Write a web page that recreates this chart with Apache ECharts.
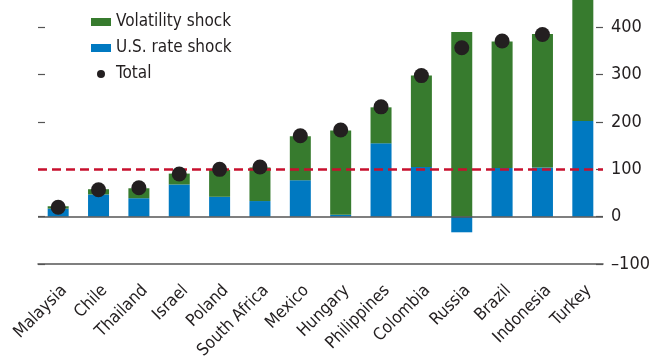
<!DOCTYPE html>
<html>
<head>
<meta charset="utf-8">
<script src="https://cdn.jsdelivr.net/npm/echarts@6/dist/echarts.min.js"></script>
<style>
html,body{margin:0;padding:0;background:#fff;overflow:hidden;}
#chart{width:666px;height:380px;position:absolute;left:0;top:-20px;}
</style>
</head>
<body>
<div id="chart"></div>
<script>
const categories = ['Malaysia','Chile','Thailand','Israel','Poland','South Africa','Mexico','Hungary','Philippines','Colombia','Russia','Brazil','Indonesia','Turkey'];
const usRateShock = [17, 47, 39, 68, 42, 33, 77, 4, 155, 105, -33, 103, 104, 202];
const volatilityShock = [5, 11, 21, 23, 57, 71, 93, 178, 76, 193, 390, 267, 282, 300];
const total = [20, 57, 61, 90, 100, 105, 171, 183, 232, 298, 357, 371, 385, 505];
const yTicks = {min: -100, max: 500, interval: 100};

const FONT = '"Liberation Sans Narrow", "DejaVu Sans Condensed", sans-serif';
const TXT = '#231F20';

const chart = echarts.init(document.getElementById('chart'));
chart.setOption({
  animation: false,
  textStyle: {fontFamily: FONT, color: TXT},
  grid: {left: 38, right: 63, top: 0, bottom: 96, containLabel: false, outerBoundsMode: 'none'},
  legend: {
    orient: 'vertical', left: 86, top: 27,
    itemWidth: 20, itemHeight: 8, itemGap: 6,
    textStyle: {fontFamily: FONT, fontSize: 17, color: TXT, lineHeight: 20},
    data: [
      {name: 'Volatility shock', icon: 'rect'},
      {name: 'U.S. rate shock', icon: 'rect'},
      {name: 'Total', icon: 'circle'}
    ]
  },
  xAxis: {
    type: 'category', data: categories,
    axisLine: {onZero: false, lineStyle: {color: '#555', width: 1.5}},
    axisTick: {inside: true, length: 7, lineStyle: {color: '#555', width: 1.5}},
    axisLabel: {rotate: 45, fontSize: 17, color: TXT, fontFamily: FONT, margin: 18, interval: 0, verticalAlign: 'top'}
  },
  yAxis: [
    {
      type: 'value', position: 'right', min: yTicks.min, max: yTicks.max, interval: yTicks.interval,
      axisLine: {show: false},
      axisTick: {show: true, inside: true, length: 7, lineStyle: {color: '#555', width: 1.2}},
      splitLine: {show: false},
      axisLabel: {fontSize: 18, color: TXT, fontFamily: FONT, margin: 8,
        formatter: v => (v < 0 ? '\u2013' + Math.abs(v) : String(v))}
    },
    {
      type: 'value', position: 'left', min: yTicks.min, max: yTicks.max, interval: yTicks.interval,
      axisLine: {show: false},
      axisTick: {show: true, inside: true, length: 7, lineStyle: {color: '#555', width: 1.2}},
      splitLine: {show: false},
      axisLabel: {show: false}
    }
  ],
  series: [
    {
      name: 'U.S. rate shock', type: 'bar', stack: 'a', data: usRateShock, barWidth: 21,
      itemStyle: {color: '#0079C1'},
      markLine: {
        silent: true, symbol: 'none', label: {show: false}, animation: false,
        data: [
          {yAxis: 0, lineStyle: {color: '#555', width: 1.5, type: 'solid'}},
          {yAxis: 100, lineStyle: {color: '#C8102E', width: 2.5, type: [9, 5]}}
        ]
      }
    },
    {
      name: 'Volatility shock', type: 'bar', stack: 'a', data: volatilityShock, barWidth: 21,
      itemStyle: {color: '#377B2E'}
    },
    {
      name: 'Total', type: 'scatter', data: total, symbolSize: 15, z: 5,
      itemStyle: {color: TXT, opacity: 1}
    }
  ]
});
</script>
</body>
</html>
